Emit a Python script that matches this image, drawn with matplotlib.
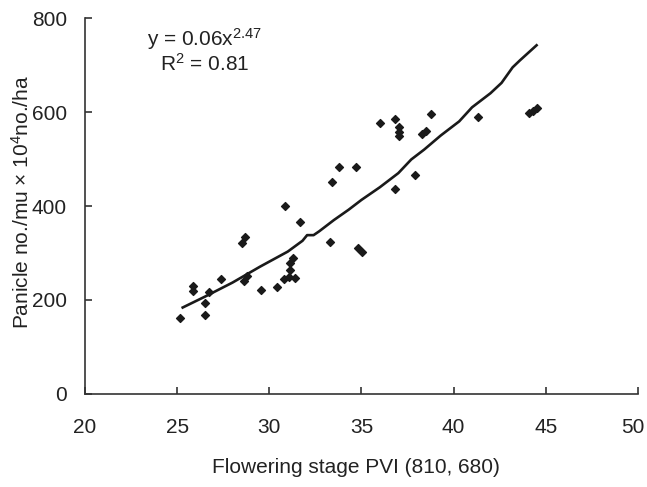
import matplotlib
matplotlib.use('Agg')
import matplotlib.pyplot as plt
import matplotlib.transforms as mtransforms

pvi = [25.15, 25.84, 25.84, 26.5, 26.5, 26.75, 27.4, 28.5, 28.7, 28.6, 28.8,
       29.55, 30.4, 30.8, 31.08, 31.4, 31.1, 31.1, 31.3, 30.85, 31.67,
       33.3, 33.4, 33.8, 34.7, 34.8, 35.05, 36.0, 36.8, 37.05, 37.05,
       37.05, 36.8, 37.9, 38.3, 38.5, 38.75, 41.3, 44.1, 44.3, 44.5]
panicle = [161, 230, 220, 193, 168, 218, 244, 321, 335, 241, 250,
           221, 228, 245, 248, 246, 264, 278, 289, 399, 367,
           324, 452, 484, 484, 311, 303, 577, 585, 568, 557,
           549, 436, 467, 553, 560, 596, 590, 598, 603, 608]

# fitted curve as drawn
fit_x = [25.3, 26.5, 28.0, 29.5, 31.0, 31.8, 32.05, 32.4, 32.7, 33.5, 34.3,
         35.0, 36.0, 37.0, 37.7, 38.4, 39.3, 40.3, 41.0, 42.0, 42.6,
         43.2, 43.6, 44.5]
fit_y = [184, 207, 237, 271, 303, 326, 338, 338, 346, 370, 392,
         413, 440, 470, 499, 520, 550, 580, 610, 640, 662,
         695, 710, 742]

plt.rcParams['font.family'] = ['Liberation Sans', 'DejaVu Sans']
plt.rcParams['mathtext.default'] = 'regular'

fig = plt.figure(figsize=(6.47, 4.87), dpi=100)
ax = fig.add_axes([0.1314, 0.191, 0.8546, 0.772])

ax.scatter(pvi, panicle, marker='D', s=16, color='#1a1a1a', zorder=3)
ax.plot(fit_x, fit_y, color='#1a1a1a', lw=1.9)

ax.set_xlim(20, 50)
ax.set_ylim(0, 800)
ax.set_xticks([20, 25, 30, 35, 40, 45, 50])
ax.set_yticks([0, 200, 400, 600, 800])

for s in ['top', 'right']:
    ax.spines[s].set_visible(False)
for s in ['left', 'bottom']:
    ax.spines[s].set_color('#333333')
    ax.spines[s].set_linewidth(1.2)
ax.tick_params(direction='in', length=5, width=1.2, color='#333333',
               labelsize=15, labelcolor='#222222')
ax.tick_params(axis='x', pad=17)
ax.tick_params(axis='y', pad=13)

# nudge the last x label so it stays inside the figure
last = ax.get_xticklabels()[-1]
last.set_transform(last.get_transform() +
                   mtransforms.ScaledTranslation(-5 / 100, 0, fig.dpi_scale_trans))

ax.set_xlabel('Flowering stage PVI (810, 680)', fontsize=15, color='#222222')
ax.set_ylabel('Panicle no./mu \u00d7 10$^4$no./ha', fontsize=15, color='#222222')
ax.xaxis.set_label_coords(0.49, -0.17)
ax.yaxis.set_label_coords(-0.094, 0.51)

ax.text(26.5, 755, 'y = 0.06x$^{2.47}$', fontsize=15, ha='center', va='center', color='#222222')
ax.text(26.5, 703, 'R$^2$ = 0.81', fontsize=15, ha='center', va='center', color='#222222')

fig.savefig('out.png', dpi=100)
